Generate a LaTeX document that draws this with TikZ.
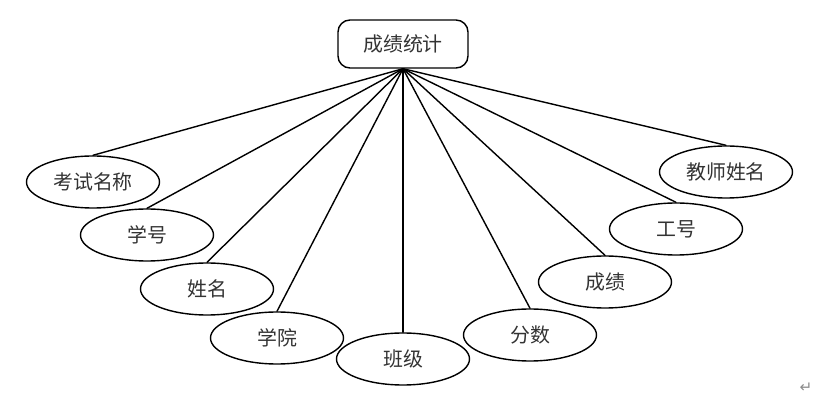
\documentclass[tikz,border=0pt]{standalone}
\usepackage{fontspec}
\newfontfamily\cjk{Noto Sans CJK SC}
\newfontfamily\dejavu{DejaVu Sans}
\usetikzlibrary{shapes.geometric}

\begin{document}
\begin{tikzpicture}[line cap=round,line join=round,x=0.03cm,y=-0.03cm,
        attr/.style={draw,ellipse,line width=1.2pt,minimum width=3.99cm,minimum height=1.56cm,inner sep=0pt,font=\cjk\fontsize{17}{20}\selectfont,text=black!80},
        entity/.style={draw,rectangle,rounded corners=0.36cm,line width=1.2pt,minimum width=3.9cm,minimum height=1.44cm,inner sep=0pt,font=\cjk\fontsize{17}{20}\selectfont,text=black!80},
        link/.style={line width=1.2pt}]
        \useasboundingbox (0,0) rectangle (830,402);
        \node [entity] (score) at (403,44) {成绩统计};
        \node [attr] (exam) at (93,182) {考试名称};
        \node [attr] (sid) at (147,235) {学号};
        \node [attr] (sname) at (207,289) {姓名};
        \node [attr] (college) at (277,338) {学院};
        \node [attr] (class) at (403,359) {班级};
        \node [attr] (points) at (530,335) {分数};
        \node [attr] (grade) at (605,282) {成绩};
        \node [attr] (tid) at (676,229) {工号};
        \node [attr] (tname) at (726,172) {教师姓名};
        \foreach \a in {exam,sid,sname,college,class,points,grade,tid,tname}
            \draw [link] (score.south) -- (\a.north);
        \node [font=\dejavu\fontsize{13}{15}\selectfont,text=black!45] (ret) at (806,388) {↵};
    \end{tikzpicture}
\end{document}
